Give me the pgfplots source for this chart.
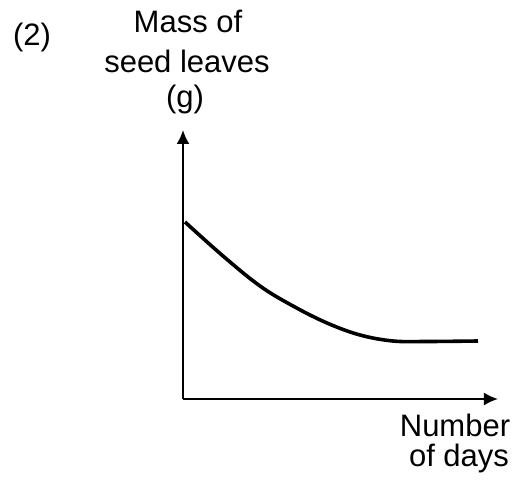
\documentclass[border=0pt]{standalone}
\usepackage{pgfplots}
\pgfplotsset{compat=1.18}
\usetikzlibrary{arrows.meta}
\usepackage{fontspec}
\setmainfont{Liberation Sans}
\begin{document}
\begin{tikzpicture}[x=0.5pt,y=-0.5pt]
\path (0,0) rectangle (521,481);
\begin{axis}[
  at={(91.5pt,-199.5pt)}, anchor=origin,
  x=0.5pt, y=0.5pt,
  xmin=0, xmax=315, ymin=0, ymax=269,
  axis lines=left,
  axis line style={line width=1pt, -{Latex[length=7pt,width=6.5pt]}},
  xtick=\empty, ytick=\empty,
  clip=false,
]
\addplot[black, line width=1.8pt, smooth, tension=0.6] coordinates {
  (2,177) (40,143) (77,113) (110,93) (144,76) (177,64) (210,58) (244,57.5) (295,58)
};
\end{axis}
\tikzset{lbl/.style={anchor=base, font=\fontsize{15.5}{18}\selectfont, inner sep=0pt}}
\node[lbl] at (32,46) {(2)};
\node[lbl] at (188,33) {Mass of};
\node[lbl] at (187,73) {seed leaves};
\node[lbl] at (185,108) {(g)};
\node[lbl] at (455,437) {Number};
\node[lbl] at (459,467) {of days};
\end{tikzpicture}
\end{document}
